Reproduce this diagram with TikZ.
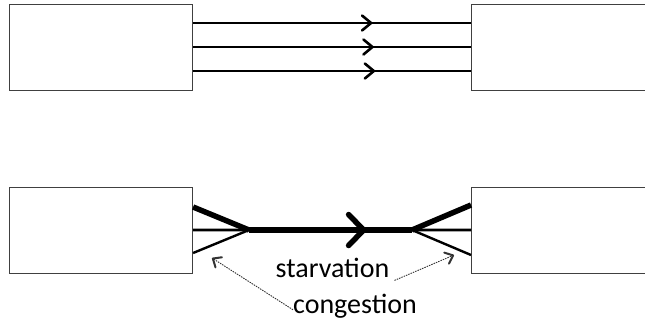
\documentclass[tikz,border=0pt]{standalone}
\usepackage{fontspec}
\setmainfont{Carlito}
\usetikzlibrary{arrows.meta,decorations.markings}
\tikzset{
  box/.style={draw=black!75, line width=1.1bp, fill=white, minimum width=183bp, minimum height=86bp, anchor=north west, inner sep=0pt},
  flow/.style={line width=2.6bp, black},
  midarrow/.style={postaction={decorate}, decoration={markings, mark=at position #1 with {\arrow{Straight Barb[length=9bp,width=15bp,line width=2.6bp,round]}}}},
  bigarrow/.style={postaction={decorate}, decoration={markings, mark=at position #1 with {\arrow{Straight Barb[length=15bp,width=31bp,line width=5.5bp,round]}}}},
  thickflow/.style={line width=5.5bp, black},
  midflow/.style={line width=2.8bp, black},
  thinflow/.style={line width=2.4bp, black},
  pointer/.style={draw=black!80, line width=0.9bp, dash pattern=on 1.5bp off 1bp, -{Straight Barb[length=7bp,width=12bp,line width=2bp,round]}},
  lbl/.style={font=\fontsize{28bp}{30bp}\selectfont, inner sep=0pt, anchor=base}
}
\begin{document}
\begin{tikzpicture}[x=1bp,y=-1bp]
\useasboundingbox (0,0) rectangle (645,331);
\clip (0,0) rectangle (645,331);
% top boxes
\node[box] (A) at (9,4) {};
\node[box, minimum width=200bp] (B) at (471,4) {};
% top flows
\draw[flow, midarrow=0.645] ([yshift=-19bp]A.north east) -- ([yshift=-19bp]B.north west);
\draw[flow, midarrow=0.65] ([yshift=-43bp]A.north east) -- ([yshift=-43bp]B.north west);
\draw[flow, midarrow=0.655] ([yshift=-67bp]A.north east) -- ([yshift=-67bp]B.north west);
% bottom boxes
\node[box] (C) at (9,187) {};
\node[box, minimum width=200bp] (D) at (471,187) {};
\coordinate (L) at (249,230);
\coordinate (R) at (412,230);
% left converging
\draw[thickflow] ([yshift=-20bp]C.north east) -- (L);
\draw[midflow] ([yshift=-43bp]C.north east) -- (L);
\draw[thinflow] ([yshift=-66bp]C.north east) -- (L);
% main thick flow
\draw[thickflow, bigarrow=0.72] (L) -- (R);
% right diverging
\draw[thickflow] (R) -- ([yshift=-18bp]D.north west);
\draw[midflow] (R) -- ([yshift=-43bp]D.north west);
\draw[thinflow] (R) -- ([yshift=-68bp]D.north west);
% labels
\node[lbl] (sv) at (332.5,277) {starvation};
\node[lbl] (cg) at (355,313) {congestion};
\coordinate (p1) at (212,258);
\coordinate (p2) at (454,255);
\draw[pointer] ([yshift=-4bp]cg.west) -- (p1);
\draw[pointer] ([xshift=5bp,yshift=-3bp]sv.south east) -- (p2);
\end{tikzpicture}
\end{document}
